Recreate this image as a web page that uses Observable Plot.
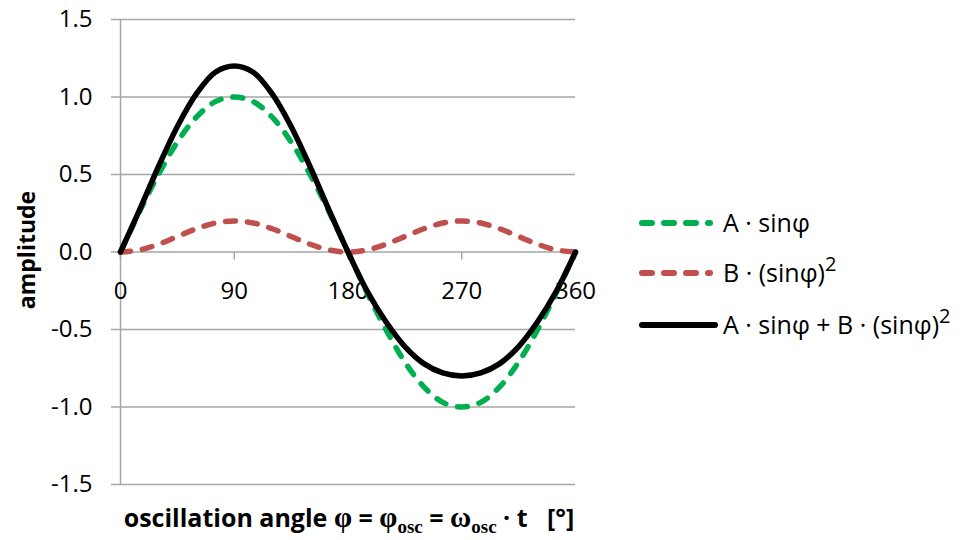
<!DOCTYPE html>
<html>
<head>
<meta charset="utf-8">
<script src="https://cdn.jsdelivr.net/npm/d3@7"></script>
<script src="https://cdn.jsdelivr.net/npm/@observablehq/plot@0.6"></script>
<style>
  body { margin: 0; background: #fff; }
  #chart svg text { white-space: pre; }
</style>
</head>
<body>
<div id="chart"></div>
<script>
// Oscillation angle φ in degrees, sampled every 15°
const angles = [0, 15, 30, 45, 60, 75, 90, 105, 120, 135, 150, 165, 180,
                195, 210, 225, 240, 255, 270, 285, 300, 315, 330, 345, 360];
// A · sinφ  (A = 1)
const seriesA = [0, 0.26, 0.50, 0.71, 0.87, 0.97, 1.00, 0.97, 0.87, 0.71, 0.50, 0.26, 0,
                 -0.26, -0.50, -0.71, -0.87, -0.97, -1.00, -0.97, -0.87, -0.71, -0.50, -0.26, 0];
// B · (sinφ)^2  (B = 0.2)
const seriesB = [0, 0.013, 0.05, 0.10, 0.15, 0.187, 0.20, 0.187, 0.15, 0.10, 0.05, 0.013, 0,
                 0.013, 0.05, 0.10, 0.15, 0.187, 0.20, 0.187, 0.15, 0.10, 0.05, 0.013, 0];
// A · sinφ + B · (sinφ)^2
const seriesSum = [0, 0.27, 0.55, 0.81, 1.02, 1.16, 1.20, 1.16, 1.02, 0.81, 0.55, 0.27, 0,
                   -0.25, -0.45, -0.61, -0.72, -0.78, -0.80, -0.78, -0.72, -0.61, -0.45, -0.25, 0];

const xTicks = [0, 90, 180, 270, 360];
const xTickLabels = ["0", "90", "180", "270", "360"];
const yTicks = [-1.5, -1, -0.5, 0, 0.5, 1, 1.5];
const yTickLabels = ["-1.5", "-1.0", "-0.5", "0.0", "0.5", "1.0", "1.5"];

const GREEN = "#00b050", RED = "#c0504d", BLACK = "#000000", GRID = "#a6a6a6";
const FONT = "'Open Sans', 'Noto Sans', sans-serif";
const SERIF = "'Liberation Serif', 'DejaVu Serif', serif";

const toRows = (values) => angles.map((a, i) => ({angle: a, value: values[i]}));

const chart = Plot.plot({
  width: 969,
  height: 540,
  marginLeft: 120,
  marginRight: 394,
  marginTop: 19,
  marginBottom: 56,
  style: {fontFamily: FONT, fontSize: "24px", background: "#fff", color: "#000"},
  x: {domain: [0, 360], axis: null},
  y: {domain: [-1.5, 1.5], axis: null},
  marks: [
    // horizontal gridlines, extended left as tick marks
    Plot.ruleY(yTicks, {y: d => d, x1: 0, x2: 360, insetLeft: -9, stroke: GRID, strokeWidth: 1.5}),
    // vertical axis line
    Plot.ruleX([0], {y1: -1.5, y2: 1.5, stroke: GRID, strokeWidth: 1.5}),
    // x ticks hanging below the zero line
    Plot.ruleX(xTicks, {x: d => d, y1: 0, y2: 0, insetBottom: -8, stroke: GRID, strokeWidth: 1.5}),
    // y tick labels
    Plot.text(yTicks, {x: 0, y: d => d, text: (d, i) => yTickLabels[i], dx: -28, textAnchor: "end", fill: "#000"}),
    // x tick labels, placed under the zero line
    Plot.text(xTicks, {x: d => d, y: 0, text: (d, i) => xTickLabels[i], dy: 39, fill: "#000"}),
    // curves
    Plot.line(toRows(seriesA), {x: "angle", y: "value", curve: "catmull-rom", stroke: GREEN,
      strokeWidth: 5.5, strokeDasharray: "10,12", strokeLinecap: "round"}),
    Plot.line(toRows(seriesB), {x: "angle", y: "value", curve: "catmull-rom", stroke: RED,
      strokeWidth: 5.5, strokeDasharray: "10,12", strokeLinecap: "round"}),
    Plot.line(toRows(seriesSum), {x: "angle", y: "value", curve: "catmull-rom", stroke: BLACK,
      strokeWidth: 5.5, strokeLinecap: "round"})
  ]
});

document.getElementById("chart").appendChild(chart);
const svg = d3.select(chart);

// y axis title
svg.append("text")
  .attr("transform", "translate(35,250) rotate(-90)")
  .attr("text-anchor", "middle")
  .attr("font-family", FONT)
  .attr("font-weight", "bold")
  .attr("font-size", 23)
  .text("amplitude");

// x axis title with serif Greek letters and subscripts
const title = svg.append("text")
  .attr("x", 349).attr("y", 527)
  .attr("text-anchor", "middle")
  .attr("font-family", FONT)
  .attr("font-weight", "bold")
  .attr("font-size", 25);
title.append("tspan").text("oscillation angle ");
title.append("tspan").attr("font-family", SERIF).attr("font-size", 29).text("φ");
title.append("tspan").text(" = ");
title.append("tspan").attr("font-family", SERIF).attr("font-size", 29).text("φ");
title.append("tspan").attr("font-family", SERIF).attr("font-size", 19).attr("dy", 6).text("osc");
title.append("tspan").attr("dy", -6).text(" = ");
title.append("tspan").attr("font-family", SERIF).attr("font-size", 29).text("ω");
title.append("tspan").attr("font-family", SERIF).attr("font-size", 19).attr("dy", 6).text("osc");
title.append("tspan").attr("dy", -6).text(" · t   [°]");

// legend
const legend = [
  {parts: [["A · sinφ"]], color: GREEN, dash: "10,12", y: 223},
  {parts: [["B · (sinφ)"], ["2", "sup"]], color: RED, dash: "10,12", y: 273},
  {parts: [["A · sinφ + B · (sinφ)"], ["2", "sup"]], color: BLACK, dash: null, y: 325}
];
for (const item of legend) {
  svg.append("line")
    .attr("x1", 642).attr("x2", item.dash ? 710 : 715)
    .attr("y1", item.y).attr("y2", item.y)
    .attr("stroke", item.color).attr("stroke-width", 6)
    .attr("stroke-linecap", "round")
    .attr("stroke-dasharray", item.dash);
  const t = svg.append("text")
    .attr("x", 723).attr("y", item.y + 9)
    .attr("text-anchor", "start")
    .attr("font-family", FONT).attr("font-size", 25).attr("fill", "#000");
  for (const [s, kind] of item.parts) {
    if (kind === "sup") t.append("tspan").attr("dy", -11).attr("font-size", 20).text(s);
    else t.append("tspan").text(s);
  }
}
</script>
</body>
</html>
